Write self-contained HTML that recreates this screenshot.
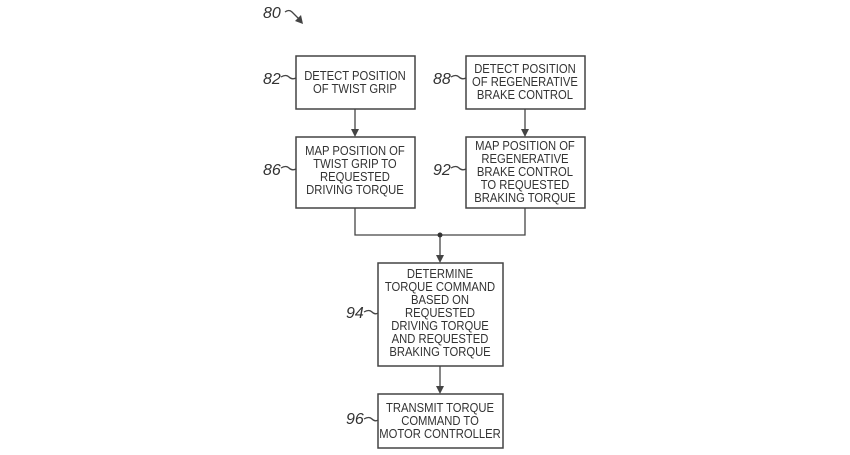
<!DOCTYPE html>
<html><head><meta charset="utf-8"><style>
html,body{margin:0;padding:0;background:#fff;width:850px;height:455px;overflow:hidden}
svg text{font-family:"Liberation Sans",sans-serif;fill:#333}
</style></head><body>
<svg width="850" height="455" viewBox="0 0 850 455" xmlns="http://www.w3.org/2000/svg">
<g fill="#fff" stroke="#444" stroke-width="1.5">
<rect x="296" y="56" width="119" height="53"/>
<rect x="466" y="56" width="119" height="53"/>
<rect x="296" y="137" width="119" height="71"/>
<rect x="466" y="137" width="119" height="71"/>
<rect x="378" y="263" width="125" height="103"/>
<rect x="378" y="394" width="125" height="54"/>
</g>
<g stroke="#444" stroke-width="1.3" fill="none">
<line x1="355" y1="109" x2="355" y2="130"/>
<line x1="525" y1="109" x2="525" y2="130"/>
<polyline points="355,208 355,235 525,235 525,208"/>
<line x1="440" y1="235" x2="440" y2="256"/>
<line x1="440" y1="366" x2="440" y2="387"/>
<path d="M281,77 q5,-3 8,0 t7,1"/><path d="M451,77 q5,-3 8,0 t7,1"/>
<path d="M281,168 q5,-3 8,0 t7,1"/><path d="M451,168 q5,-3 8,0 t7,1"/>
<path d="M364,312 q5,-3 8,0 t6,1"/><path d="M364,419 q5,-3 8,0 t6,1"/>
<path d="M285,12 q4,-3 7,0 L300,20"/>
</g>
<g fill="#444">
<polygon points="351,129 359,129 355,137"/>
<polygon points="521,129 529,129 525,137"/>
<polygon points="436,255 444,255 440,263"/>
<polygon points="436,386 444,386 440,394"/>
<polygon points="295,21 301,15 303,24"/>
</g>
<circle cx="440" cy="235" r="2.5" fill="#333"/>
<g font-size="16" font-style="italic">
<text x="263" y="18">80</text>
<text x="263" y="84">82</text><text x="433" y="84">88</text>
<text x="263" y="175">86</text><text x="433" y="175">92</text>
<text x="346" y="318">94</text><text x="346" y="424">96</text>
</g>
<g font-size="12.5" text-anchor="middle" transform="scale(0.9,1)">
<text x="394.4" y="80">DETECT POSITION</text><text x="394.4" y="93">OF TWIST GRIP</text>
<text x="583.3" y="73">DETECT POSITION</text><text x="583.3" y="86">OF REGENERATIVE</text><text x="583.3" y="99">BRAKE CONTROL</text>
<text x="394.4" y="155">MAP POSITION OF</text><text x="394.4" y="168">TWIST GRIP TO</text><text x="394.4" y="181">REQUESTED</text><text x="394.4" y="194">DRIVING TORQUE</text>
<text x="583.3" y="150">MAP POSITION OF</text><text x="583.3" y="163">REGENERATIVE</text><text x="583.3" y="176">BRAKE CONTROL</text><text x="583.3" y="189">TO REQUESTED</text><text x="583.3" y="202">BRAKING TORQUE</text>
<text x="488.9" y="278">DETERMINE</text><text x="488.9" y="291">TORQUE COMMAND</text><text x="488.9" y="304">BASED ON</text><text x="488.9" y="317">REQUESTED</text><text x="488.9" y="330">DRIVING TORQUE</text><text x="488.9" y="343">AND REQUESTED</text><text x="488.9" y="356">BRAKING TORQUE</text>
<text x="488.9" y="412">TRANSMIT TORQUE</text><text x="488.9" y="425">COMMAND TO</text><text x="488.9" y="438">MOTOR CONTROLLER</text>
</g>
</svg>
</body></html>
